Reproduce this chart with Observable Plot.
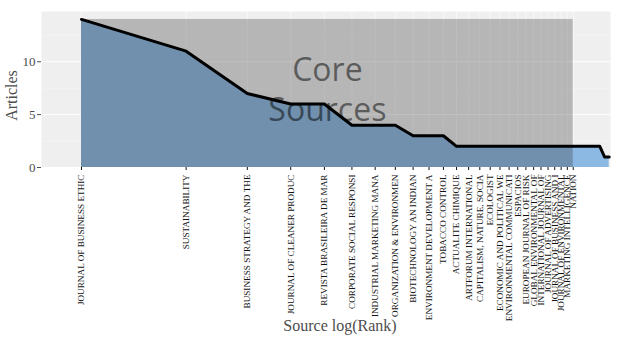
<!DOCTYPE html>
<html>
<head>
<meta charset="utf-8">
<script src="https://cdn.jsdelivr.net/npm/d3@7"></script>
<script src="https://cdn.jsdelivr.net/npm/@observablehq/plot@0.6"></script>
<style>
  html, body { margin: 0; padding: 0; background: white; }
</style>
</head>
<body>
<div id="chart"></div>
<script>
// Source labels (core sources, ranks 1..26), truncated as in the original
const sourceLabels = [
  "JOURNAL OF BUSINESS ETHIC",
  "SUSTAINABILITY",
  "BUSINESS STRATEGY AND THE",
  "JOURNAL OF CLEANER PRODUC",
  "REVISTA BRASILEIRA DE MAR",
  "CORPORATE SOCIAL RESPONSI",
  "INDUSTRIAL MARKETING MANA",
  "ORGANIZATION & ENVIRONMEN",
  "BIOTECHNOLOGY AN INDIAN",
  "ENVIRONMENT DEVELOPMENT A",
  "TOBACCO CONTROL",
  "ACTUALITE CHIMIQUE",
  "ARTFORUM INTERNATIONAL",
  "CAPITALISM, NATURE, SOCIA",
  "ECOLOGIST",
  "ECONOMIC AND POLITICAL WE",
  "ENVIRONMENTAL COMMUNICATI",
  "ESPACIOS",
  "EUROPEAN JOURNAL OF RISK",
  "GLOBAL ENVIRONMENTAL OF",
  "INTERNATIONAL JOURNAL OF",
  "JOURNAL OF ADVERTISING",
  "JOURNAL OF BUSINESS AND I",
  "JOURNAL OF ENVIRONMENTAL",
  "MARKETING INTELLIGENCE",
  "NATION"
];

// Articles per source, by rank
const articles = [14, 11, 7, 6, 6, 4, 4, 4, 3, 3, 3,
  2, 2, 2, 2, 2, 2, 2, 2, 2, 2, 2, 2, 2, 2, 2, 2, 2, 2, 2, 2,
  1, 1];

const yTicks = [0, 5, 10];
const coreLabel = "Core\nSources";
const xTitle = "Source log(Rank)";
const yTitle = "Articles";

const data = articles.map((n, i) => ({ lr: Math.log(i + 1), n }));
const tickVals = sourceLabels.map((s, i) => Math.log(i + 1));
const labelMap = new Map(tickVals.map((v, i) => [v, sourceLabels[i]]));
const coreEnd = Math.log(sourceLabels.length);

const chart = Plot.plot({
  width: 625,
  height: 344,
  marginLeft: 41,
  marginRight: 15,
  marginTop: 11,
  marginBottom: 177,
  style: { fontFamily: "'Liberation Serif', serif", background: "white" },
  x: { domain: [-0.265, 3.505] },
  y: { domain: [0, 14.75] },
  marks: [
    Plot.frame({ fill: "#EFEFEF", stroke: "none" }),
    Plot.gridY([2.5, 7.5, 12.5], { stroke: "white", strokeOpacity: 0.5, strokeWidth: 0.6 }),
    Plot.gridY(yTicks, { stroke: "white", strokeOpacity: 1, strokeWidth: 1 }),
    Plot.gridX(tickVals, { stroke: "white", strokeOpacity: 0.7, strokeWidth: 0.8 }),
    Plot.areaY(data, { x: "lr", y: "n", fill: "#8BB9E4" }),
    Plot.rect([{ x1: 0, x2: coreEnd, y1: 0, y2: articles[0] }],
      { x1: "x1", x2: "x2", y1: "y1", y2: "y2", fill: "#333", fillOpacity: 0.3 }),
    Plot.text([coreLabel], {
      x: coreEnd / 2, y: 7.5, text: d => d,
      fontSize: 32, fontFamily: "'Open Sans', sans-serif",
      fill: "black", fillOpacity: 0.5, lineHeight: 1.25
    }),
    Plot.lineY(data, { x: "lr", y: "n", stroke: "black", strokeWidth: 3 }),
    Plot.axisY(yTicks, {
      tickSize: 4, tickPadding: 2, fontSize: 13, color: "#4d4d4d", label: null
    }),
    Plot.axisX(tickVals, {
      tickFormat: d => labelMap.get(d), tickRotate: -90,
      fontSize: 9.2, tickSize: 3, tickPadding: 4, color: "#111", label: null
    }),
    Plot.text([xTitle], {
      frameAnchor: "bottom", dx: 14, dy: 158, text: d => d,
      textAnchor: "middle", lineAnchor: "middle",
      fontSize: 16, fill: "#4d4d4d"
    }),
    Plot.text([yTitle], {
      frameAnchor: "left", dx: -30, dy: 6, rotate: -90, text: d => d,
      textAnchor: "middle", lineAnchor: "middle",
      fontSize: 16, fill: "#4d4d4d"
    })
  ]
});
document.getElementById("chart").appendChild(chart);
</script>
</body>
</html>
